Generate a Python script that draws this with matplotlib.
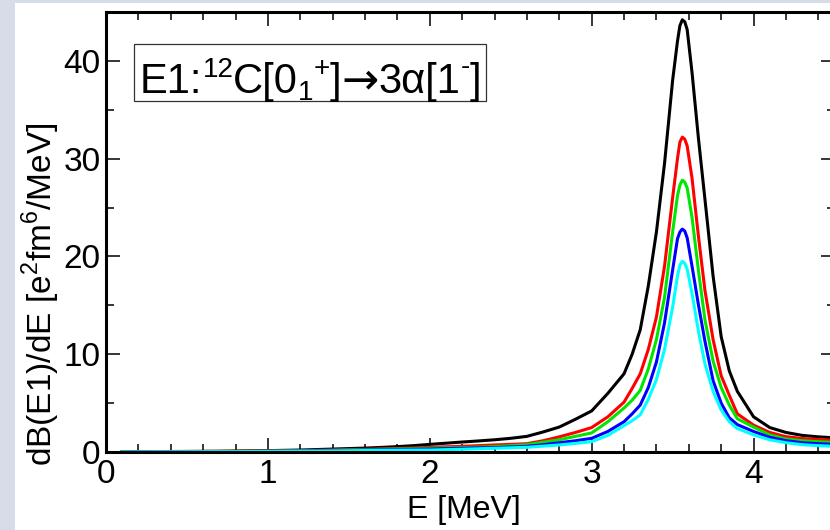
import matplotlib
matplotlib.use("Agg")
import matplotlib.pyplot as plt
from matplotlib.patches import Rectangle
from matplotlib.ticker import MultipleLocator

plt.rcParams["font.family"] = ["Liberation Sans", "DejaVu Sans"]

# energy grid [MeV]
energy = [0.1, 0.2, 0.3, 0.4, 0.5, 0.6, 0.7, 0.8, 0.9, 1.0,
          1.1, 1.2, 1.3, 1.4, 1.5, 1.6, 1.7, 1.8, 1.9, 2.0,
          2.1, 2.2, 2.3, 2.4, 2.5, 2.6, 2.7, 2.8, 2.9, 3.0,
          3.1, 3.2, 3.25, 3.3, 3.35, 3.4, 3.45, 3.5, 3.53, 3.545,
          3.56, 3.575, 3.59, 3.62, 3.66, 3.7, 3.75, 3.8, 3.85, 3.9,
          4.0, 4.1, 4.2, 4.3, 4.4, 4.5]

# dB(E1)/dE [e^2 fm^6 / MeV]
black_vals = [0.02, 0.03, 0.04, 0.05, 0.06, 0.07, 0.08, 0.10, 0.12, 0.14,
              0.17, 0.20, 0.25, 0.30, 0.35, 0.40, 0.47, 0.55, 0.65, 0.78,
              0.90, 1.02, 1.13, 1.25, 1.40, 1.60, 2.05, 2.55, 3.35, 4.2,
              6.0, 8.0, 10.0, 12.5, 17.0, 22.5, 29.5, 38.0, 42.0, 43.6,
              44.2, 44.0, 43.2, 38.8, 32.0, 25.8, 18.0, 11.8, 8.3, 6.2,
              3.6, 2.5, 2.0, 1.7, 1.55, 1.45]
red_vals = [0.02, 0.02, 0.03, 0.04, 0.05, 0.05, 0.06, 0.07, 0.08, 0.10,
            0.12, 0.15, 0.17, 0.20, 0.24, 0.28, 0.32, 0.36, 0.42, 0.48,
            0.53, 0.58, 0.65, 0.72, 0.78, 0.85, 1.15, 1.55, 2.0, 2.5,
            3.6, 5.1, 6.5, 8.0, 10.5, 13.8, 19.0, 26.0, 30.0, 31.7,
            32.2, 32.0, 31.3, 28.0, 22.0, 16.5, 11.5, 7.8, 5.8, 3.9,
            2.75, 2.0, 1.57, 1.38, 1.28, 1.2]
green_vals = [0.02, 0.02, 0.03, 0.03, 0.04, 0.04, 0.05, 0.06, 0.07, 0.08,
              0.10, 0.12, 0.14, 0.17, 0.20, 0.23, 0.27, 0.30, 0.34, 0.38,
              0.42, 0.45, 0.50, 0.55, 0.65, 0.75, 1.0, 1.25, 1.6, 1.95,
              3.1, 4.5, 5.3, 6.3, 8.5, 11.5, 15.8, 22.5, 26.2, 27.3,
              27.8, 27.6, 27.0, 24.0, 18.5, 13.5, 9.3, 6.6, 4.8, 3.4,
              2.55, 1.75, 1.33, 1.15, 1.05, 0.98]
blue_vals = [0.01, 0.02, 0.02, 0.03, 0.03, 0.04, 0.04, 0.05, 0.06, 0.07,
             0.08, 0.10, 0.12, 0.14, 0.16, 0.19, 0.22, 0.25, 0.28, 0.30,
             0.34, 0.38, 0.42, 0.45, 0.52, 0.58, 0.75, 0.95, 1.15, 1.4,
             2.1, 3.1, 3.9, 4.8, 6.6, 9.2, 13.2, 18.6, 21.8, 22.5,
             22.8, 22.6, 21.9, 19.0, 15.0, 11.3, 7.3, 5.0, 3.5, 2.8,
             2.1, 1.5, 1.16, 0.95, 0.85, 0.78]
cyan_vals = [0.01, 0.01, 0.02, 0.02, 0.03, 0.03, 0.04, 0.04, 0.05, 0.06,
             0.07, 0.08, 0.09, 0.11, 0.13, 0.15, 0.17, 0.19, 0.20, 0.20,
             0.24, 0.28, 0.33, 0.38, 0.43, 0.48, 0.60, 0.72, 0.88, 1.05,
             1.7, 2.7, 3.2, 3.8, 5.4, 7.4, 10.5, 14.8, 18.0, 19.1,
             19.5, 19.3, 18.7, 16.2, 12.3, 9.0, 6.2, 4.3, 3.1, 2.4,
             1.75, 1.25, 0.95, 0.75, 0.65, 0.58]

series = [
    (black_vals, "black"),
    (red_vals, "#ff0000"),
    (green_vals, "#00e600"),
    (blue_vals, "#0000ff"),
    (cyan_vals, "#00ffff"),
]

W, H = 830, 530
fig = plt.figure(figsize=(W / 100, H / 100), dpi=100)
fig.patch.set_facecolor("#d6dde8")
fig.patches.append(Rectangle((15 / W, 0), 1, 1 - 3 / H, transform=fig.transFigure,
                             facecolor="white", edgecolor="none", zorder=-10))

ax = fig.add_axes([106 / W, 1 - 452 / H, (834.5 - 106) / W, (452 - 12) / H])
ax.set_facecolor("white")

for vals, col in series:
    ax.plot(energy, vals, color=col, lw=2.2)

ax.set_xlim(0, 4.5)
ax.set_ylim(0, 45)
ax.xaxis.set_major_locator(MultipleLocator(1))
ax.xaxis.set_minor_locator(MultipleLocator(0.2))
ax.yaxis.set_major_locator(MultipleLocator(10))
ax.yaxis.set_minor_locator(MultipleLocator(5))
ax.tick_params(which="both", direction="in", top=True, right=True, width=1.1)
ax.tick_params(which="major", length=10, labelsize=24)
ax.tick_params(which="minor", length=6)
ax.tick_params(axis="x", pad=5)
ax.tick_params(axis="y", pad=4)
for sp in ax.spines.values():
    sp.set_linewidth(2.2)

fig.text(464 / W, 1 - 510 / H, "E [MeV]", ha="center", va="center", fontsize=23)
fig.text(41 / W, 1 - 294 / H, r"dB(E1)/dE [e$^\mathregular{2}$fm$^\mathregular{6}$/MeV]",
         ha="center", va="center", rotation=90, fontsize=24)

# label box
fig.patches.append(Rectangle((134 / W, 1 - 101 / H), (486 - 134) / W, (101 - 44) / H,
                             transform=fig.transFigure, facecolor="white",
                             edgecolor="#333333", lw=0.9, zorder=5))

# title pieces: (text, size, raise in px, family)
pieces = [
    ("E1:", 30, 0, None),
    ("12", 20, 16, None),
    ("C[0", 30, 0, None),
    ("1", 20, -7, None),
    ("+", 20, 17, None),
    ("]", 30, 0, None),
    ("→", 32, 0, "DejaVu Sans"),
    ("3α[1", 30, 0, None),
    ("-", 20, 19, None),
    ("]", 30, 0, None),
]
renderer = fig.canvas.get_renderer()
x_px, base_px = 140, 93
for txt, size, rise, fam in pieces:
    kw = {"family": fam} if fam else {}
    t = fig.text(x_px / W, 1 - (base_px - rise) / H, txt, ha="left", va="baseline",
                 fontsize=size, zorder=6, **kw)
    x_px += t.get_window_extent(renderer).width

fig.savefig("out.png", dpi=100, facecolor=fig.get_facecolor())
